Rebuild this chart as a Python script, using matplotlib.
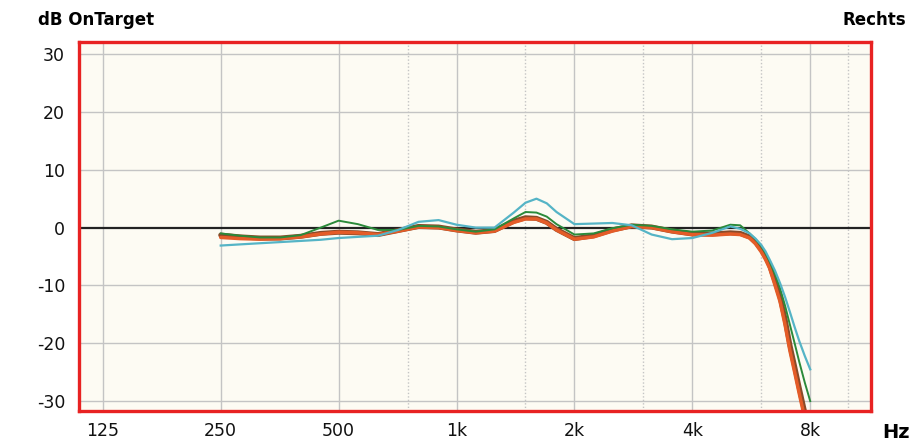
import matplotlib
matplotlib.use("Agg")
import matplotlib.pyplot as plt
from matplotlib.ticker import FixedLocator, NullFormatter

# frequency points (Hz)
freqs = [250, 280, 315, 355, 400, 450, 500, 560, 630, 710, 800, 900, 1000, 1120,
         1250, 1400, 1500, 1600, 1700, 1800, 2000, 2240, 2500, 2800, 3150, 3550,
         4000, 4500, 5000, 5300, 5600, 5800, 6000, 6150, 6300, 6500, 6700, 6900,
         7100, 7300, 7500, 7750, 8000]

brown = [-1.3, -1.6, -1.8, -1.8, -1.5, -1.0, -0.8, -0.9, -1.2, -0.5, 0.2, 0.1, -0.4, -0.8,
         -0.5, 1.1, 1.7, 1.6, 0.9, -0.3, -1.9, -1.4, -0.4, 0.3, 0.1, -0.6,
         -1.1, -1.1, -0.9, -1.0, -1.6, -2.5, -3.8, -5.0, -6.5, -9.2, -12.0, -15.8,
         -20.3, -24.0, -27.7, -32.0, -36.0]

orange = [-1.7, -1.9, -2.0, -1.9, -1.6, -1.1, -0.8, -0.9, -1.2, -0.6, 0.1, 0.0, -0.5, -0.9,
          -0.6, 0.9, 1.5, 1.5, 0.8, -0.4, -2.0, -1.6, -0.6, 0.2, 0.0, -0.7,
          -1.2, -1.3, -1.1, -1.2, -1.8, -2.8, -4.2, -5.5, -7.0, -9.9, -12.8, -16.8,
          -21.3, -25.0, -28.7, -33.0, -37.0]

green = [-1.0, -1.4, -1.7, -1.7, -1.3, 0.0, 1.2, 0.6, -0.4, -0.4, 0.3, 0.2, -0.3, -0.7,
         -0.3, 1.6, 2.7, 2.6, 1.9, 0.6, -1.2, -1.0, -0.1, 0.5, 0.3, -0.3,
         -0.7, -0.5, 0.5, 0.4, -1.0, -2.0, -3.2, -4.4, -5.8, -8.0, -10.5, -13.5,
         -16.8, -20.0, -23.2, -26.8, -30.0]

cyan = [-3.1, -2.9, -2.7, -2.5, -2.3, -2.1, -1.8, -1.6, -1.4, -0.4, 1.0, 1.3, 0.5, 0.0,
        0.0, 2.6, 4.3, 5.0, 4.2, 2.7, 0.6, 0.7, 0.8, 0.4, -1.2, -2.0,
        -1.8, -0.9, 0.2, -0.2, -1.0, -1.9, -3.0, -4.1, -5.5, -7.4, -9.6, -12.0,
        -14.6, -17.2, -19.6, -22.2, -24.5]

major_freqs = [125, 250, 500, 1000, 2000, 4000, 8000]
major_labels = ["125", "250", "500", "1k", "2k", "4k", "8k"]
minor_freqs = [750, 1500, 3000, 6000, 10000]
y_ticks = [30, 20, 10, 0, -10, -20, -30]

fig = plt.figure(figsize=(9.19, 4.46), dpi=100)
ax = fig.add_axes([0.086, 0.0785, 0.862, 0.8275])
ax.set_facecolor("#fdfbf3")

ax.set_xscale("log")
ax.set_xlim(108.7, 11450)
ax.set_ylim(-31.7, 32.1)

# grid
for f in major_freqs:
    ax.axvline(f, color="#c4c4c4", lw=1.0, zorder=1)
for f in minor_freqs:
    ax.axvline(f, color="#c4c4c4", lw=1.0, ls=(0, (1, 1.5)), zorder=1)
for v in y_ticks:
    if v != 0:
        ax.axhline(v, color="#c4c4c4", lw=1.0, zorder=1)
ax.axhline(0, color="#222222", lw=1.6, zorder=2)

# curves
ax.plot(freqs, brown, color="#8a4a28", lw=3.6, solid_joinstyle="round",
        solid_capstyle="round", zorder=3)
ax.plot(freqs, orange, color="#e45c28", lw=2.5, solid_joinstyle="round",
        solid_capstyle="round", zorder=4)
ax.plot(freqs, green, color="#2b8a3a", lw=1.4, solid_joinstyle="round", zorder=5)
ax.plot(freqs, cyan, color="#55b4c6", lw=1.6, solid_joinstyle="round", zorder=6)

# ticks
ax.xaxis.set_major_locator(FixedLocator(major_freqs))
ax.xaxis.set_minor_locator(FixedLocator([]))
ax.xaxis.set_minor_formatter(NullFormatter())
ax.set_xticks(major_freqs)
ax.set_xticklabels(major_labels)
ax.set_yticks(y_ticks)
ax.set_yticklabels([str(v) for v in y_ticks])
ax.tick_params(axis="both", length=0, labelsize=12.5, colors="#111111")
ax.tick_params(axis="x", pad=8)
ax.tick_params(axis="y", pad=10)

for s in ax.spines.values():
    s.set_color("#e82222")
    s.set_linewidth(2.4)
    s.set_zorder(10)

fig.text(0.041, 0.955, "dB OnTarget", fontsize=12, fontweight="bold", ha="left", va="center")
fig.text(0.986, 0.955, "Rechts", fontsize=12, fontweight="bold", ha="right", va="center")
fig.text(0.990, 0.030, "Hz", fontsize=14, fontweight="bold", ha="right", va="center")

fig.savefig("out.png", dpi=100, facecolor="white")
